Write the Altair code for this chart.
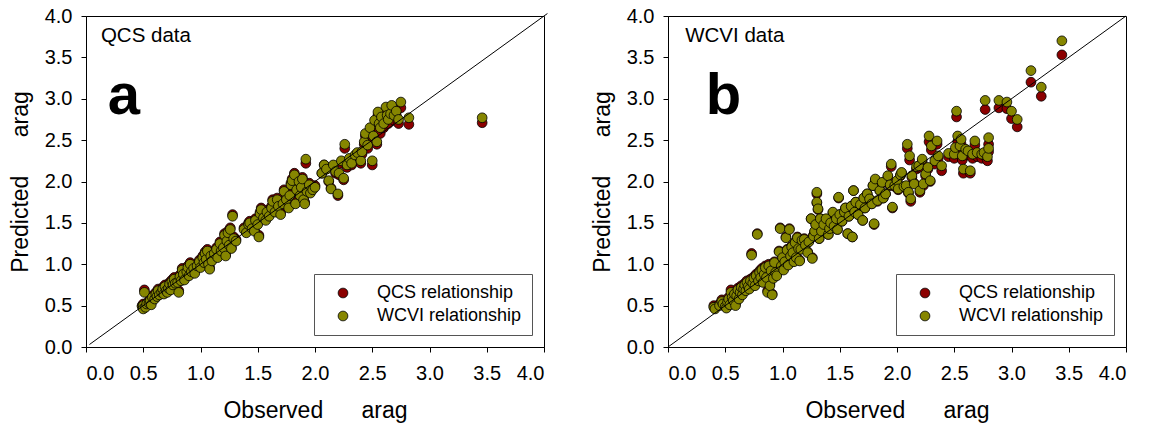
import altair as alt
import pandas as pd

FONT = "Liberation Sans"
series_names = ["QCS relationship", "WCVI relationship"]
series_colors = ["#8B0000", "#868600"]
tick_values = [0.0, 0.5, 1.0, 1.5, 2.0, 2.5, 3.0, 3.5, 4.0]

# ---------------- Panel a: QCS data ----------------
a_obs = [0.49,0.50,0.50,0.51,0.52,0.53,0.55,0.56,0.57,0.58,
         0.60,0.61,0.62,0.63,0.64,0.66,0.67,0.68,0.69,0.70,
         0.71,0.72,0.73,0.74,0.75,0.76,0.77,0.78,0.80,0.81,
         0.82,0.83,0.84,0.85,0.86,0.88,0.89,0.90,0.91,0.92,
         0.94,0.95,0.97,0.99,1.00,1.02,1.03,1.04,1.05,1.06,
         1.07,1.08,1.09,1.10,1.12,1.14,1.15,1.17,1.18,1.20,
         1.21,1.22,1.23,1.24,1.25,1.26,1.27,1.28,1.29,1.31,
         1.38,1.40,1.42,1.43,1.45,1.47,1.48,1.50,1.51,1.52,
         1.53,1.55,1.57,1.58,1.60,1.62,1.63,1.65,1.67,1.68,
         1.70,1.72,1.73,1.75,1.77,1.78,1.79,1.80,1.82,1.83,
         1.84,1.86,1.87,1.88,1.89,1.90,1.91,1.92,1.93,1.95,
         1.96,1.98,2.00,
         2.06,2.08,2.10,2.12,2.14,2.16,2.18,2.20,2.21,2.23,
         2.25,2.26,2.28,2.30,2.32,2.35,2.37,2.40,2.41,2.43,
         2.44,2.46,2.48,2.50,2.51,2.52,2.54,2.55,2.56,2.57,
         2.58,2.60,2.62,2.63,2.64,2.66,2.67,2.69,2.71,2.73,
         2.75,2.82,3.46]
a_qcs = [0.50,0.52,0.48,0.69,0.50,0.53,0.55,0.58,0.53,0.62,
         0.60,0.66,0.62,0.70,0.65,0.68,0.72,0.66,0.75,0.70,
         0.67,0.73,0.78,0.70,0.81,0.76,0.84,0.79,0.80,0.68,
         0.87,0.82,0.95,0.90,0.83,0.93,0.98,0.88,1.02,0.93,
         0.97,0.91,1.00,1.05,0.98,1.10,1.04,1.15,1.08,1.18,
         1.02,0.96,1.12,1.06,1.15,1.20,1.10,1.27,1.18,1.22,
         1.37,1.12,1.30,1.40,1.25,1.44,1.20,1.60,1.33,1.30,
         1.44,1.40,1.50,1.52,1.45,1.42,1.55,1.50,1.35,1.63,
         1.68,1.58,1.55,1.65,1.60,1.70,1.78,1.65,1.80,1.72,
         1.62,1.75,1.90,1.80,1.70,1.85,1.98,2.03,2.10,1.75,
         1.92,2.02,1.85,1.95,2.05,1.80,1.75,2.22,1.90,1.98,
         1.88,1.92,1.95,
         2.10,2.20,2.15,2.00,1.92,2.18,2.10,1.83,2.08,2.22,
         2.02,2.40,2.17,2.25,2.20,2.28,2.32,2.22,2.33,2.45,
         2.55,2.40,2.60,2.20,2.52,2.68,2.45,2.80,2.62,2.58,
         2.72,2.65,2.85,2.75,2.70,2.78,2.88,2.74,2.80,2.70,
         2.89,2.69,2.71]
a_wcvi = [0.49,0.50,0.46,0.66,0.48,0.52,0.53,0.56,0.51,0.60,
          0.58,0.64,0.61,0.68,0.63,0.66,0.70,0.64,0.73,0.68,
          0.66,0.71,0.76,0.69,0.79,0.75,0.82,0.77,0.78,0.66,
          0.85,0.80,0.93,0.88,0.81,0.91,0.96,0.86,1.00,0.91,
          0.95,0.89,0.98,1.03,0.96,1.08,1.02,1.13,1.06,1.16,
          1.00,0.94,1.10,1.04,1.13,1.18,1.08,1.25,1.16,1.20,
          1.35,1.10,1.28,1.38,1.23,1.42,1.19,1.58,1.31,1.28,
          1.42,1.38,1.48,1.50,1.43,1.40,1.53,1.48,1.33,1.61,
          1.66,1.56,1.53,1.63,1.58,1.68,1.76,1.63,1.78,1.70,
          1.60,1.73,1.88,1.78,1.68,1.83,1.96,2.01,2.08,1.73,
          1.90,2.00,1.83,1.93,2.03,1.78,1.73,2.27,1.88,1.96,
          1.86,1.90,1.93,
          2.10,2.20,2.15,2.01,1.91,2.20,2.12,1.85,2.10,2.25,
          2.04,2.45,2.20,2.28,2.22,2.32,2.35,2.25,2.36,2.48,
          2.58,2.44,2.65,2.25,2.55,2.74,2.48,2.84,2.70,2.65,
          2.78,2.70,2.90,2.80,2.75,2.82,2.92,2.80,2.85,2.75,
          2.96,2.77,2.77]

# ---------------- Panel b: WCVI data ----------------
b_obs = [0.40,0.41,0.45,0.47,0.48,0.50,0.51,0.52,0.53,0.54,
         0.55,0.56,0.57,0.58,0.59,0.60,0.61,0.62,0.63,0.64,
         0.65,0.66,0.67,0.68,0.69,0.70,0.71,0.72,0.73,0.74,
         0.75,0.76,0.77,0.78,0.79,0.80,0.81,0.82,0.83,0.84,
         0.85,0.86,0.87,0.88,0.89,0.90,0.91,0.92,0.93,0.94,
         0.95,0.97,0.98,0.99,
         1.00,1.01,1.02,1.03,1.04,1.05,1.06,1.07,1.08,1.09,
         1.10,1.11,1.12,1.13,1.14,1.15,1.16,1.17,1.19,1.20,
         1.22,1.23,1.25,1.26,1.27,1.28,1.29,1.30,1.30,1.31,
         1.32,1.33,1.34,
         1.36,1.38,1.40,1.41,1.42,1.44,1.45,1.47,1.48,1.49,
         1.50,1.52,1.54,1.55,1.57,1.58,1.60,1.61,1.62,1.63,
         1.64,1.66,1.68,1.70,1.71,1.72,1.74,1.76,1.78,1.79,
         1.80,
         1.81,1.83,1.85,1.87,1.88,1.90,1.92,1.94,1.95,1.96,
         1.98,2.00,2.01,2.03,2.04,2.06,2.08,2.09,2.10,2.11,
         2.12,2.13,2.15,2.17,2.19,2.20,2.22,2.23,2.25,2.27,
         2.28,2.29,2.30,
         2.33,2.35,2.36,2.39,2.45,2.50,2.51,2.52,2.53,2.55,
         2.56,2.57,2.58,2.60,2.62,2.64,2.66,2.68,2.70,2.74,
         2.76,2.77,2.79,2.80,2.80,
         2.89,2.96,3.00,3.05,3.17,3.26,3.44]
b_qcs = [0.50,0.48,0.52,0.57,0.54,0.51,0.48,0.56,0.60,0.53,
         0.69,0.62,0.58,0.66,0.52,0.64,0.71,0.60,0.68,0.74,
         0.66,0.72,0.77,0.70,0.80,0.75,0.72,0.82,1.13,0.79,
         0.85,0.76,0.88,1.37,0.82,0.92,0.86,0.95,0.80,0.90,
         0.98,0.86,0.68,1.00,0.76,0.94,0.64,0.85,1.03,0.92,
         0.88,1.16,1.44,1.00,
         1.10,0.95,1.05,1.33,1.18,1.00,1.43,1.12,1.22,1.15,
         1.04,1.27,1.10,1.33,1.20,1.05,1.19,1.30,1.31,1.24,
         1.15,1.28,1.55,1.08,1.35,1.39,1.48,1.85,1.74,1.66,
         1.31,1.55,1.40,
         1.48,1.54,1.36,1.43,1.50,1.62,1.46,1.55,1.42,1.80,
         1.60,1.52,1.64,1.68,1.37,1.58,1.70,1.33,1.89,1.63,
         1.75,1.60,1.72,1.53,1.80,1.68,1.85,1.79,1.73,1.95,
         1.48,
         2.01,1.76,1.89,1.98,1.80,1.85,2.05,1.95,2.18,1.68,
         1.94,2.00,1.90,2.07,2.10,1.93,1.94,2.40,1.86,2.26,
         1.76,2.05,1.98,2.15,2.17,1.87,2.24,1.95,2.07,2.15,
         2.48,2.00,2.38,
         2.21,2.45,2.28,2.13,2.30,2.28,2.38,2.78,2.48,2.38,
         2.45,2.26,2.10,2.35,2.32,2.10,2.28,2.44,2.30,2.28,
         2.32,2.87,2.25,2.36,2.45,
         2.89,2.88,2.76,2.66,3.20,3.03,3.53]
b_wcvi = [0.48,0.46,0.50,0.55,0.52,0.49,0.47,0.54,0.58,0.51,
          0.66,0.60,0.56,0.64,0.50,0.62,0.69,0.58,0.66,0.72,
          0.63,0.70,0.75,0.68,0.78,0.73,0.70,0.80,1.11,0.77,
          0.83,0.74,0.86,1.36,0.80,0.90,0.84,0.93,0.78,0.88,
          0.96,0.84,0.66,0.98,0.74,0.92,0.63,0.83,1.02,0.90,
          0.86,1.15,1.43,0.98,
          1.08,0.93,1.03,1.32,1.17,0.99,1.42,1.10,1.21,1.14,
          1.03,1.26,1.08,1.32,1.19,1.04,1.18,1.29,1.30,1.23,
          1.14,1.27,1.55,1.07,1.34,1.40,1.48,1.87,1.75,1.67,
          1.31,1.55,1.40,
          1.48,1.55,1.36,1.43,1.50,1.63,1.46,1.55,1.42,1.81,
          1.60,1.52,1.63,1.68,1.37,1.58,1.70,1.33,1.89,1.63,
          1.75,1.60,1.72,1.53,1.80,1.68,1.85,1.79,1.73,1.95,
          1.49,
          2.03,1.77,1.89,1.99,1.80,1.85,2.07,1.96,2.21,1.69,
          1.95,2.01,1.91,2.08,2.11,1.94,1.95,2.45,1.87,2.31,
          1.79,2.07,1.97,2.18,2.19,1.89,2.27,1.97,2.09,2.17,
          2.55,2.01,2.43,
          2.25,2.49,2.31,2.19,2.34,2.33,2.41,2.85,2.55,2.43,
          2.51,2.31,2.15,2.39,2.37,2.13,2.33,2.49,2.35,2.33,
          2.35,2.98,2.30,2.40,2.53,
          2.98,2.96,2.85,2.75,3.34,3.14,3.70]

# 1:1 line end points and panel annotations (data coordinates)
a_line = [0.03, 4.03]
b_line = [0.0, 4.0]
a_label = {"text": "QCS data", "x": 0.13, "y": 3.68}
b_label = {"text": "WCVI data", "x": 0.15, "y": 3.69}
a_letter = {"text": "a", "x": 0.19, "y": 2.82}
b_letter = {"text": "b", "x": 0.33, "y": 2.81}

GAP = "\u00a0" * 6
x_title = "Observed" + GAP + "arag"
y_title = "Predicted" + GAP + "arag"


def panel(obs, qcs, wcvi, line, label, letter):
    n = len(obs)
    df = pd.DataFrame({
        "obs": obs + obs,
        "pred": qcs + wcvi,
        "series": [series_names[0]] * n + [series_names[1]] * n,
    })
    xs = alt.Scale(domain=[0, 4], nice=False, zero=False)
    ys = alt.Scale(domain=[0, 4], nice=False, zero=False)
    xax = alt.Axis(values=tick_values, format=".1f", title=x_title)
    yax = alt.Axis(values=tick_values, format=".1f", title=y_title)

    pts = alt.Chart(df).mark_point(
        filled=True, size=95, stroke="black", strokeWidth=0.8, opacity=1
    ).encode(
        x=alt.X("obs:Q", scale=xs, axis=xax),
        y=alt.Y("pred:Q", scale=ys, axis=yax),
        color=alt.Color(
            "series:N",
            scale=alt.Scale(domain=series_names, range=series_colors),
            legend=alt.Legend(
                title=None, orient="bottom-right", offset=12,
                padding=10, symbolOffset=10, labelOffset=25,
                rowPadding=5, strokeColor="#555555", fillColor="white",
                labelFont=FONT, labelFontSize=18, labelColor="black",
                symbolType="circle", symbolSize=95,
                symbolStrokeColor="black", symbolStrokeWidth=0.8,
                symbolOpacity=1, labelLimit=220,
            ),
        ),
    )

    ldf = pd.DataFrame({"x": line, "y": line})
    diag = alt.Chart(ldf).mark_line(color="black", strokeWidth=1, clip=False).encode(
        x=alt.X("x:Q", scale=xs, axis=xax), y=alt.Y("y:Q", scale=ys, axis=yax)
    )

    t1 = alt.Chart(pd.DataFrame([label])).mark_text(
        align="left", baseline="alphabetic", font=FONT, fontSize=20.5, color="black"
    ).encode(x=alt.X("x:Q", scale=xs), y=alt.Y("y:Q", scale=ys), text="text:N")

    t2 = alt.Chart(pd.DataFrame([letter])).mark_text(
        align="left", baseline="alphabetic", font=FONT, fontSize=58,
        fontWeight="bold", color="black"
    ).encode(x=alt.X("x:Q", scale=xs), y=alt.Y("y:Q", scale=ys), text="text:N")

    return alt.layer(pts, diag, t1, t2).properties(width=458, height=331)


pa = panel(a_obs, a_qcs, a_wcvi, a_line, a_label, a_letter)
pb = panel(b_obs, b_qcs, b_wcvi, b_line, b_label, b_letter)

chart = alt.hconcat(pa, pb, spacing=124, bounds="flush").resolve_legend(
    color="independent"
).properties(
    padding={"left": 8, "top": 5, "right": 5, "bottom": 5},
    background="white",
).configure_axis(
    grid=False, domainColor="black", tickColor="black", tickSize=5,
    labelFont=FONT, labelFontSize=20, labelColor="black",
    titleFont=FONT, titleFontSize=23, titleFontWeight="normal", titleColor="black",
).configure_axisX(
    labelPadding=11, titlePadding=16,
).configure_axisY(
    labelPadding=9, titlePadding=12,
).configure_view(stroke="black", strokeWidth=1)

chart.save("out.html", embed_options={"renderer": "svg", "actions": False})
